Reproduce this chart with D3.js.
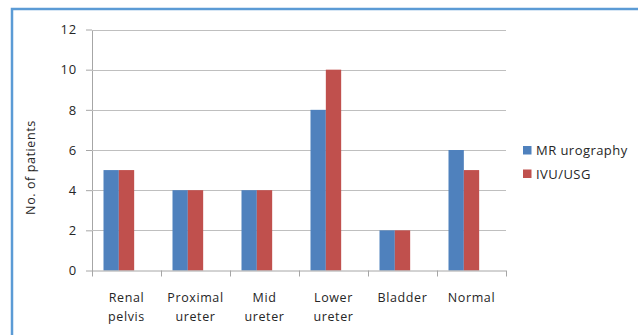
<!DOCTYPE html>
<html>
<head>
<meta charset="utf-8">
<script src="https://cdn.jsdelivr.net/npm/d3@7"></script>
<style>
  html, body { margin: 0; padding: 0; background: #fff; }
  svg { display: block; }
  text { font-family: "Open Sans", "DejaVu Sans", sans-serif; fill: #262626; }
</style>
</head>
<body>
<svg id="chart" width="638" height="335"></svg>
<script>
// Sites of calculi detected by each modality
const categories = [["Renal", "pelvis"], ["Proximal", "ureter"], ["Mid", "ureter"], ["Lower", "ureter"], ["Bladder"], ["Normal"]];
const seriesNames = ["MR urography", "IVU/USG"];
const mrUrography = [5, 4, 4, 8, 2, 6];
const ivuUsg = [5, 4, 4, 10, 2, 5];
const yTicks = [0, 2, 4, 6, 8, 10, 12];
const colors = ["#4F81BD", "#C0504D"];
// Third slot of each group is left empty (an unused series column)
const slots = ["MR urography", "IVU/USG", "(blank)"];

const svg = d3.select("#chart");

// Outer frame
svg.append("rect")
  .attr("x", 12).attr("y", 9)
  .attr("width", 640).attr("height", 340)
  .attr("fill", "none")
  .attr("stroke", "#5B9BD5")
  .attr("stroke-width", 2.5);

const plot = { left: 92, right: 506, top: 29.5, bottom: 270.5 };

const x = d3.scaleBand()
  .domain(d3.range(categories.length))
  .range([plot.left, plot.right])
  .paddingInner(1 / 3)
  .paddingOuter(1 / 6);

const xs = d3.scaleBand()
  .domain(slots)
  .range([0, x.bandwidth()]);

const y = d3.scaleLinear()
  .domain([0, 12])
  .range([plot.bottom, plot.top]);

// Value axis with tick labels
const yAxis = svg.append("g")
  .attr("transform", `translate(${plot.left},0)`)
  .call(d3.axisLeft(y).tickValues(yTicks).tickSize(6).tickSizeOuter(0).tickPadding(9));
yAxis.select(".domain").attr("stroke", "#A6A6A6");
yAxis.selectAll(".tick line").attr("stroke", "#A6A6A6");
yAxis.selectAll(".tick text")
  .attr("font-size", 13)
  .attr("letter-spacing", 0.8)
  .attr("fill", "#262626")
  .style("font-family", '"Open Sans", sans-serif');

// Horizontal gridlines
svg.append("g")
  .selectAll("line")
  .data(yTicks.filter(d => d > 0))
  .join("line")
  .attr("x1", plot.left).attr("x2", plot.right)
  .attr("y1", d => Math.round(y(d)) + 0.5).attr("y2", d => Math.round(y(d)) + 0.5)
  .attr("stroke", "#BFBFBF");

// Bars
const seriesData = [mrUrography, ivuUsg];
seriesData.forEach((vals, si) => {
  svg.append("g")
    .selectAll("rect")
    .data(vals)
    .join("rect")
    .attr("x", (d, i) => x(i) + xs(slots[si]))
    .attr("y", d => y(d))
    .attr("width", xs.bandwidth())
    .attr("height", d => y(0) - y(d))
    .attr("fill", colors[si]);
});

// Category axis
const xEdges = d3.range(categories.length + 1).map(i => plot.left + i * x.step());
svg.append("line")
  .attr("x1", plot.left).attr("x2", plot.right)
  .attr("y1", plot.bottom + 0.5).attr("y2", plot.bottom + 0.5)
  .attr("stroke", "#A6A6A6");
svg.append("g")
  .selectAll("line")
  .data(xEdges)
  .join("line")
  .attr("x1", d => Math.round(d) + 0.5).attr("x2", d => Math.round(d) + 0.5)
  .attr("y1", plot.bottom).attr("y2", plot.bottom + 6)
  .attr("stroke", "#A6A6A6");

const catLabels = svg.append("g")
  .selectAll("text")
  .data(categories)
  .join("text")
  .attr("text-anchor", "middle")
  .attr("font-size", 12.5)
  .attr("letter-spacing", 0.6);
catLabels.each(function (lines, i) {
  const cx = plot.left + (i + 0.5) * x.step();
  d3.select(this).attr("x", cx);
  lines.forEach((ln, li) => {
    d3.select(this).append("tspan")
      .attr("x", cx)
      .attr("y", 302 + li * 19)
      .text(ln);
  });
});

// Y axis title
svg.append("text")
  .attr("transform", "translate(35,167.5) rotate(-90)")
  .attr("text-anchor", "middle")
  .attr("font-size", 12.5)
  .attr("letter-spacing", 0.6)
  .text("No. of patients");

// Legend
const legend = svg.append("g").attr("transform", "translate(523,146)");
seriesNames.forEach((name, i) => {
  const g = legend.append("g").attr("transform", `translate(0,${i * 23.5})`);
  g.append("rect").attr("width", 8.5).attr("height", 8.5).attr("fill", colors[i]);
  g.append("text")
    .attr("x", 13).attr("y", 9)
    .attr("font-size", 13)
    .attr("letter-spacing", 0.45)
    .text(name);
});
</script>
</body>
</html>
